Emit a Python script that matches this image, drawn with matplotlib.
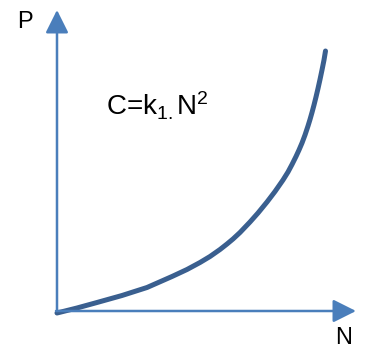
import matplotlib
matplotlib.use('Agg')
import matplotlib.pyplot as plt

plt.rcParams['font.family'] = ['Liberation Sans', 'DejaVu Sans']
plt.rcParams['mathtext.fontset'] = 'custom'
plt.rcParams['mathtext.rm'] = 'Liberation Sans'
plt.rcParams['mathtext.it'] = 'Liberation Sans'

# curve (N, P)
n_vals = [0, 20, 40, 65, 90, 115, 130, 143, 153, 163, 170, 176, 183, 193, 201, 210, 218,
          226, 231, 235, 239, 242, 245, 248, 251, 253, 255, 257, 259, 261, 263, 265, 267, 268.5]
p_vals = [-2, 3, 8.5, 15.5, 23.5, 34.5, 41.5, 48.5, 54.5, 61.5, 67, 72, 78.5, 89, 98, 109, 119.5,
          131, 139, 146.5, 154.5, 161, 168, 176, 185, 191.5, 198.5, 206, 214, 222.5, 231.5, 241, 251, 260]

axis_color = '#4a7ebb'
curve_color = '#3a5f8f'

fig = plt.figure(figsize=(3.65, 3.49), dpi=100)
ax = fig.add_axes([0, 0, 1, 1])
ax.set_xlim(-57, 308)
ax.set_ylim(-38, 311)
ax.axis('off')

arrow = dict(arrowstyle='-|>,head_length=0.7,head_width=0.35', color=axis_color,
             lw=1.8, shrinkA=0, shrinkB=0, mutation_scale=20)
ax.annotate('', xy=(0, 301), xytext=(0, 0), arrowprops=arrow)
ax.annotate('', xy=(299, 0), xytext=(-1, 0), arrowprops=arrow)

ax.plot(n_vals, p_vals, color=curve_color, lw=3.6, solid_capstyle='round', solid_joinstyle='round')

ax.text(-32, 289, 'P', fontsize=17, ha='center', va='center')
ax.text(287, -27, 'N', fontsize=17, ha='center', va='center')
ax.text(49, 196, r'C=k$_{1.}$N$^{2}$', fontsize=20, ha='left', va='baseline')

fig.savefig('out.png', dpi=100)
